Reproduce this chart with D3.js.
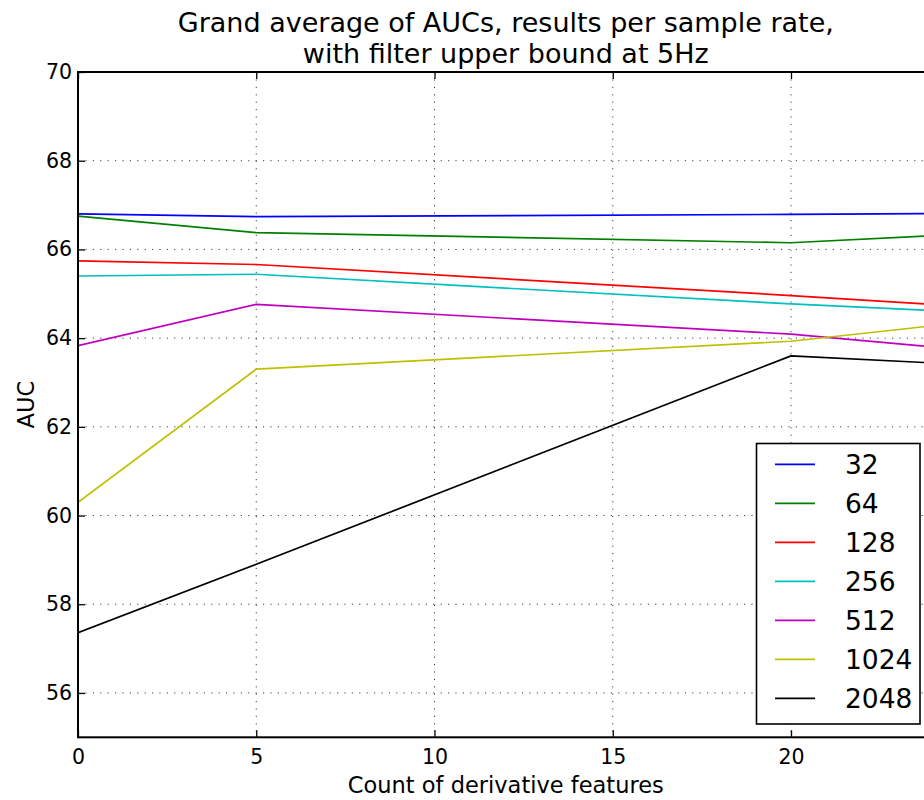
<!DOCTYPE html>
<html>
<head>
<meta charset="utf-8">
<script src="https://cdn.jsdelivr.net/npm/d3@7/dist/d3.min.js"></script>
<style>
  html, body { margin: 0; padding: 0; background: #fff; }
  svg { display: block; font-family: "DejaVu Sans", sans-serif; }
</style>
</head>
<body>
<svg id="chart" width="924" height="800"></svg>
<script>
// Derivative feature counts on the x axis
const featureCounts = [0, 5, 20, 24];

// Sample rates (one line each) and their colours
const sampleRates = ["32", "64", "128", "256", "512", "1024", "2048"];
const lineColors = ["#0000ff", "#008000", "#ff0000", "#00bfbf", "#bf00bf", "#bfbf00", "#000000"];

// Grand average AUC per sample rate, one value per feature count
const auc32   = [66.80, 66.74, 66.79, 66.81];
const auc64   = [66.75, 66.38, 66.15, 66.31];
const auc128  = [65.74, 65.66, 64.96, 64.76];
const auc256  = [65.40, 65.44, 64.77, 64.62];
const auc512  = [63.83, 64.76, 64.09, 63.80];
const auc1024 = [60.30, 63.30, 63.93, 64.28];
const auc2048 = [57.36, 58.90, 63.60, 63.44];
const seriesValues = [auc32, auc64, auc128, auc256, auc512, auc1024, auc2048];

const xTicks = [0, 5, 10, 15, 20];
const yTicks = [56, 58, 60, 62, 64, 66, 68, 70];

const titleLines = ["Grand average of AUCs, results per sample rate,", "with filter upper bound at 5Hz"];
const xLabel = "Count of derivative features";
const yLabel = "AUC";

const svg = d3.select("#chart");
const plotLeft = 78, plotTop = 72, plotBottom = 737.3;
const x = d3.scaleLinear().domain([0, 24]).range([plotLeft, plotLeft + 24 * 35.65]);
const y = d3.scaleLinear().domain([55, 70]).range([plotBottom, plotTop]);
const plotRight = x.range()[1];

// Clip lines to the axes box
svg.append("defs").append("clipPath").attr("id", "plotClip")
  .append("rect").attr("x", plotLeft).attr("y", plotTop)
  .attr("width", plotRight - plotLeft).attr("height", plotBottom - plotTop);

// Dotted grid
const grid = svg.append("g");
grid.selectAll("line.gx").data(xTicks.filter(d => d > 0)).join("line")
  .attr("x1", d => x(d)).attr("x2", d => x(d)).attr("y1", plotTop).attr("y2", plotBottom)
  .attr("stroke", "#000").attr("stroke-width", 1).attr("stroke-dasharray", "1.2,6.2").attr("opacity", 0.75);
grid.selectAll("line.gy").data(yTicks.filter(d => d < 70)).join("line")
  .attr("x1", plotLeft).attr("x2", plotRight).attr("y1", d => y(d)).attr("y2", d => y(d))
  .attr("stroke", "#000").attr("stroke-width", 1).attr("stroke-dasharray", "1.2,6.2").attr("opacity", 0.75);

// Series lines
const line = d3.line().x((d, i) => x(featureCounts[i])).y(d => y(d));
svg.append("g").attr("clip-path", "url(#plotClip)")
  .selectAll("path").data(seriesValues).join("path")
  .attr("d", d => line(d))
  .attr("fill", "none")
  .attr("stroke", (d, i) => lineColors[i])
  .attr("stroke-width", 1.7)
  .attr("stroke-linejoin", "round");

// Axes with inward ticks on all four sides
const tickLen = 7;
const tickFont = 20.5;
const axBottom = d3.axisBottom(x).tickValues(xTicks).tickSize(-tickLen).tickPadding(12).tickFormat(d3.format("d"));
const axTop = d3.axisTop(x).tickValues(xTicks).tickSize(-tickLen).tickFormat("");
const axLeft = d3.axisLeft(y).tickValues(yTicks).tickSize(-tickLen).tickPadding(6).tickFormat(d3.format("d"));
const axRight = d3.axisRight(y).tickValues(yTicks).tickSize(-tickLen).tickFormat("");

function styleAxis(g) {
  g.select(".domain").remove();
  g.selectAll(".tick line").attr("stroke", "#000").attr("stroke-width", 1.3);
  g.selectAll(".tick text").attr("fill", "#000").attr("font-size", tickFont)
    .attr("font-family", "DejaVu Sans, sans-serif");
}
svg.append("g").attr("transform", `translate(0,${plotBottom})`).call(axBottom).call(styleAxis)
  .selectAll(".tick text").attr("dy", "0.71em");
svg.append("g").attr("transform", `translate(0,${plotTop})`).call(axTop).call(styleAxis);
svg.append("g").attr("transform", `translate(${plotLeft},0)`).call(axLeft).call(styleAxis);
svg.append("g").attr("transform", `translate(${plotRight},0)`).call(axRight).call(styleAxis);

// Axes frame
svg.append("rect").attr("x", plotLeft).attr("y", plotTop)
  .attr("width", plotRight - plotLeft).attr("height", plotBottom - plotTop)
  .attr("fill", "none").attr("stroke", "#000").attr("stroke-width", 2);

// Title
const cx = (plotLeft + plotRight) / 2;
svg.append("g").selectAll("text").data(titleLines).join("text")
  .attr("x", cx).attr("y", (d, i) => 32 + i * 31)
  .attr("text-anchor", "middle").attr("font-size", 27).attr("fill", "#000")
  .text(d => d);

// Axis labels
svg.append("text").attr("x", cx).attr("y", 793).attr("text-anchor", "middle")
  .attr("font-size", 22.5).attr("fill", "#000").text(xLabel);
svg.append("text").attr("transform", `translate(34,${(plotTop + plotBottom) / 2}) rotate(-90)`)
  .attr("text-anchor", "middle").attr("font-size", 22.5).attr("fill", "#000").text(yLabel);

// Legend
const lg = svg.append("g");
lg.append("rect").attr("x", 756.5).attr("y", 443.5).attr("width", 163.5).attr("height", 280.5)
  .attr("fill", "#fff").attr("stroke", "#000").attr("stroke-width", 1.6);
const items = lg.selectAll("g.item").data(sampleRates).join("g")
  .attr("transform", (d, i) => `translate(0,${464.3 + i * 39})`);
items.append("line").attr("x1", 775).attr("x2", 815).attr("y1", 0).attr("y2", 0)
  .attr("stroke", (d, i) => lineColors[i]).attr("stroke-width", 1.7);
items.append("text").attr("x", 845).attr("y", 9.5).attr("font-size", 26.5).attr("fill", "#000").text(d => d);
</script>
</body>
</html>
